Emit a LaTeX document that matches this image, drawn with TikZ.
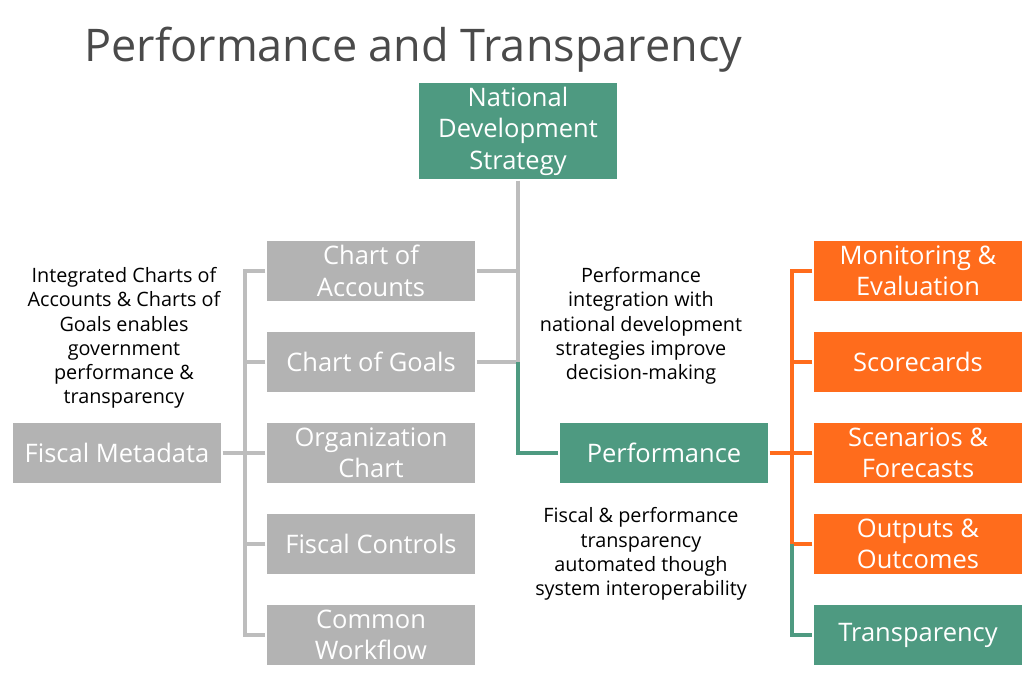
\documentclass[tikz,border=0pt]{standalone}
\usepackage{fontspec}
\setmainfont{Open Sans}
\usepackage{tikz}
\usetikzlibrary{positioning}

\definecolor{ptgreen}{HTML}{4E9A81}
\definecolor{ptorange}{HTML}{FF6C1C}
\definecolor{ptgray}{HTML}{B3B3B3}
\definecolor{ptline}{HTML}{BDBDBD}
\definecolor{pttitle}{HTML}{4A4A4A}

\begin{document}
\begin{tikzpicture}[
            x = 1pt, y = -1pt, % pixel grid, y going down
            line width = 3.2pt, % connector width
            every text node part/.style={align=center}
        ]

        \tikzstyle{box}=[
            draw = none,
            text = white,
            minimum width = 208pt,
            minimum height = 60pt,
            inner sep = 0pt,
            font = \fontsize{25.5}{31.5}\selectfont
        ]
        \tikzstyle{graybox}=[box, fill = ptgray]
        \tikzstyle{greenbox}=[box, fill = ptgreen]
        \tikzstyle{orangebox}=[box, fill = ptorange]
        \tikzstyle{note}=[text = black, inner sep = 0pt, font = \fontsize{19.8}{24.3}\selectfont]

        \useasboundingbox (0,0) rectangle (1024,684);

        \node[anchor = base west, text = pttitle, inner sep = 0pt, font = \fontsize{45}{54}\selectfont] (title) at (83,62) {Performance and Transparency};

        \node[greenbox, minimum width = 198pt, minimum height = 96pt] (NDS) at (518,131) {National\\ Development\\ Strategy};

        % fiscal metadata column
        \node[graybox] (CoA) at (371,271) {Chart of\\ Accounts};
        \node[graybox] (CoG) at (371,362) {Chart of Goals};
        \node[graybox] (Org) at (371,453) {Organization\\ Chart};
        \node[graybox] (FC) at (371,544) {Fiscal Controls};
        \node[graybox] (CW) at (371,635) {Common\\ Workflow};
        \node[graybox] (FM) at (117,453) {Fiscal Metadata};

        \node[greenbox] (Perf) at (664,453) {Performance};

        % performance column
        \node[orangebox] (ME) at (918,271) {Monitoring \&\\ Evaluation};
        \node[orangebox] (SC) at (918,362) {Scorecards};
        \node[orangebox] (SF) at (918,453) {Scenarios \&\\ Forecasts};
        \node[orangebox] (OO) at (918,544) {Outputs \&\\ Outcomes};
        \node[greenbox] (TR) at (918,635) {Transparency};

        \node[note] (leftnote) at (124,338) {Integrated Charts of\\ Accounts \& Charts of\\ Goals enables\\ government\\ performance \&\\ transparency};
        \node[note] (midnote) at (641,326) {Performance\\ integration with\\ national development\\ strategies improve\\ decision-making};
        \node[note] (lownote) at (641,554) {Fiscal \& performance\\ transparency\\ automated though\\ system interoperability};

        \coordinate (lbus) at (245,453);
        \coordinate (mbus) at (518,362);
        \coordinate (rbus) at (792,453);

        % left bracket
        \draw[ptline] (FM.east) -- (lbus);
        \draw[ptline] (CoA.west) -| (lbus) |- (CW.west);
        \foreach \n in {CoG, Org, FC}
            \draw[ptline] (\n.west) -- (\n.west -| lbus);

        % middle spine
        \draw[ptline] (NDS.south) -- (mbus);
        \draw[ptline] (CoA.east) -- (CoA.east -| mbus);
        \draw[ptline] (CoG.east) -- (mbus);
        \draw[ptgreen] (mbus) |- (Perf.west);

        % right bracket
        \draw[ptorange] (Perf.east) -- (rbus);
        \draw[ptorange] (ME.west) -| (rbus) -- (OO.west -| rbus);
        \foreach \n in {SC, SF, OO}
            \draw[ptorange] (\n.west) -- (\n.west -| rbus);
        \draw[ptgreen] (OO.west -| rbus) |- (TR.west);

\end{tikzpicture}
\end{document}
